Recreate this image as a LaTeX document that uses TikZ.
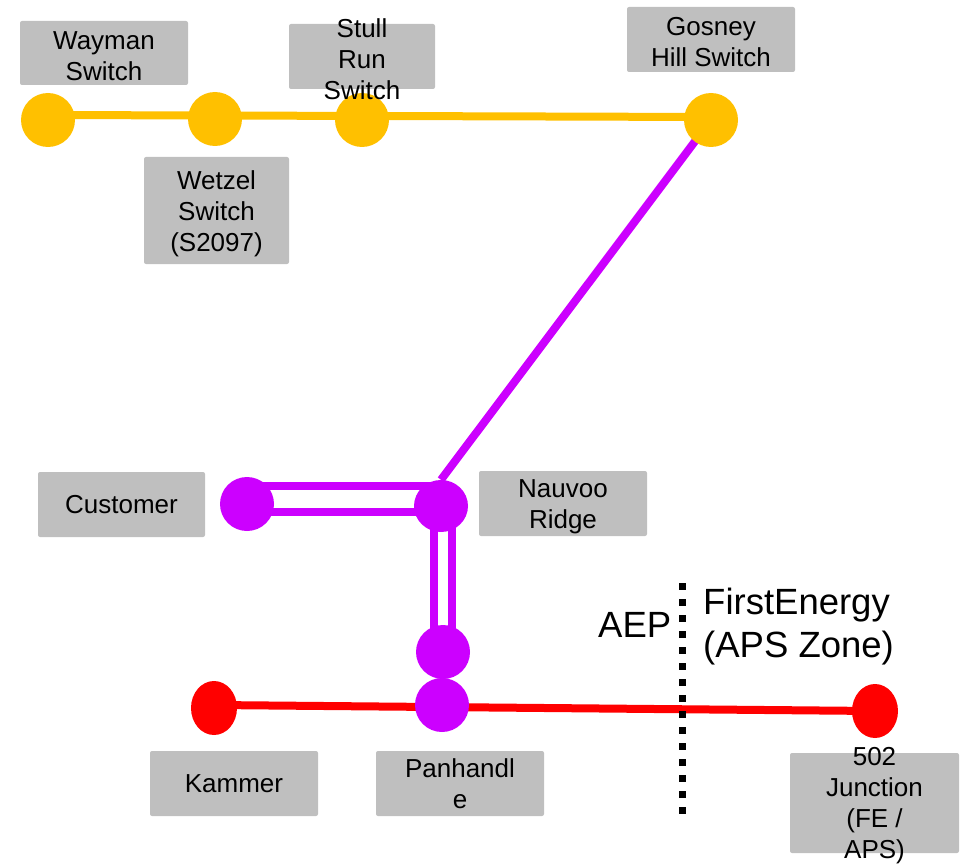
\documentclass[tikz,border=0pt]{standalone}
\usepackage{fontspec}
\setmainfont{Liberation Sans}
\usetikzlibrary{shapes.geometric}
\definecolor{gold}{HTML}{FFC000}
\definecolor{violetx}{HTML}{CC00FF}
\definecolor{redx}{HTML}{FF0000}
\definecolor{boxgray}{HTML}{BFBFBF}
\begin{document}
\begin{tikzpicture}[x=1pt,y=-1pt,
  box/.style={fill=boxgray, rounded corners=2pt, inner sep=0pt, draw=none},
  lbl/.style={font=\fontsize{26}{31}\selectfont, align=center, inner sep=0pt, text=black},
  mlbl/.style={lbl, yshift=-3pt},
  big/.style={font=\fontsize{36.5}{43}\selectfont, align=left, inner sep=0pt, text=black},
  dotnode/.style={ellipse, inner sep=0pt, draw=none, minimum width=54pt, minimum height=54pt},
  slim/.style={minimum width=46pt},
  goldline/.style={draw=gold, line width=8pt},
  vline/.style={draw=violetx, line width=8pt},
  redline/.style={draw=redx, line width=8pt},
  vdouble/.style={draw=violetx, line width=8pt, double=white},
  border/.style={draw=black, line width=7pt, dash pattern=on 7pt off 9pt}
]
\useasboundingbox (0,0) rectangle (970,864);

% station nodes (drawn as shapes only, lines are drawn beneath)
\path
  (48,120)  node[dotnode] (wayman) {}
  (215,119) node[dotnode] (wetzel) {}
  (362,120) node[dotnode] (stull) {}
  (711,120) node[dotnode] (gosney) {}
  (247,504) node[dotnode] (customer) {}
  (441,506) node[dotnode, minimum height=52pt] (nauvoo) {}
  (443,652) node[dotnode] (tap) {}
  (442,705) node[dotnode] (panhandle) {}
  (214,708) node[dotnode, slim] (kammer) {}
  (875,711) node[dotnode, slim] (junction) {};

% connectors
\draw[goldline] ([yshift=5pt]wayman.center) -- ([yshift=3pt]gosney.center);
\draw[vline] (gosney.center) -- (nauvoo.north);
\draw[vdouble, double distance=18pt] ([yshift=5pt]customer.center) -- ([yshift=5pt]customer.center -| nauvoo.center);
\draw[vdouble, double distance=10pt] (tap.center) -- (tap.center |- nauvoo.center);
\draw[redline] ([yshift=3pt]kammer.center) -- (junction.center);

% station fills on top
\fill[gold] (wayman.center) circle (27);
\fill[gold] (wetzel.center) circle (27);
\fill[gold] (stull.center) circle (27);
\fill[gold] (gosney.center) circle (27);
\fill[violetx] (customer.center) circle (27);
\fill[violetx] (nauvoo.center) ellipse (27 and 26);
\fill[violetx] (tap.center) circle (27);
\fill[violetx] (panhandle.center) circle (27);
\fill[redx] (kammer.center) ellipse (23 and 27);
\fill[redx] (junction.center) ellipse (23 and 27);

% boundary
\coordinate (bdtop) at (682,583);
\coordinate (bdbot) at (682,814);
\draw[border] (bdtop) -- (bdbot);

% label boxes
\node[box, minimum width=168pt, minimum height=64pt] (waymanbox) at (104,53) {};
\node[box, minimum width=146pt, minimum height=65pt] (stullbox) at (362,56.5) {};
\node[box, minimum width=145pt, minimum height=107pt] (wetzelbox) at (216.5,210.5) {};
\node[box, minimum width=168pt, minimum height=65pt] (gosneybox) at (711,39.5) {};
\node[box, minimum width=167pt, minimum height=65pt] (customerbox) at (121.5,504.5) {};
\node[box, minimum width=168pt, minimum height=65pt] (nauvoobox) at (563,503.5) {};
\node[box, minimum width=168pt, minimum height=65pt] (kammerbox) at (234,783.5) {};
\node[box, minimum width=168pt, minimum height=65pt] (panhandlebox) at (460,783.5) {};
\node[box, minimum width=169pt, minimum height=100pt] (junctionbox) at (874.5,803) {};

% label texts
\node[mlbl] at (waymanbox) {Wayman\\Switch};
\node[mlbl] at (stullbox) {Stull\\Run\\Switch};
\node[mlbl] at (wetzelbox) {Wetzel\\Switch\\(S2097)};
\node[mlbl] at (gosneybox) {Gosney\\Hill Switch};
\node[lbl] at (customerbox) {Customer};
\node[mlbl] at (nauvoobox) {Nauvoo\\Ridge};
\node[lbl] at (kammerbox) {Kammer};
\node[lbl] at (panhandlebox) {Panhandl\\e};
\node[mlbl] at (junctionbox) {502\\Junction\\(FE /\\APS)};

% zone texts
\node[big, anchor=base west] (aep) at (598,637) {AEP};
\node[big, anchor=north west] (fe) at (703,588) {FirstEnergy\\(APS Zone)};
\end{tikzpicture}
\end{document}
